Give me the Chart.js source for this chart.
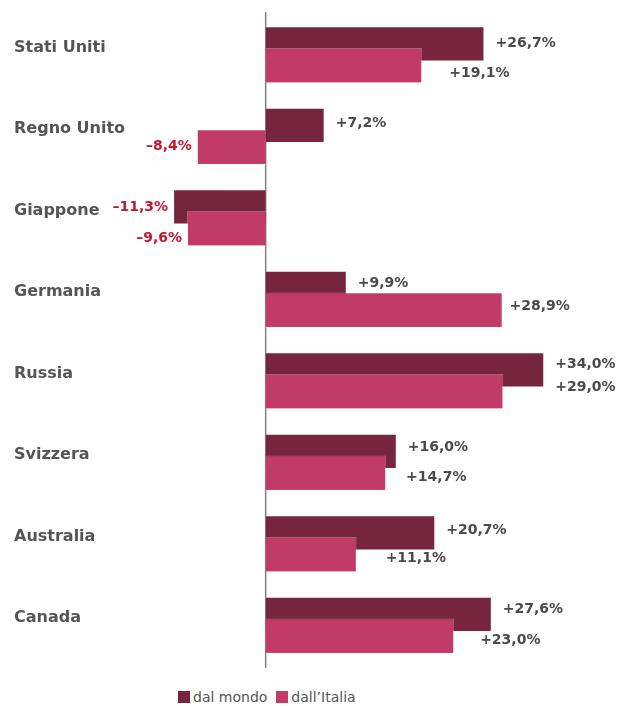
<!DOCTYPE html>
<html>
<head>
<meta charset="utf-8">
<script src="https://cdn.jsdelivr.net/npm/chart.js@4"></script>
<style>
  body { margin: 0; background: #fff; }
  #wrap { position: relative; width: 622px; height: 706px; }
  #box { position: absolute; left: 0; top: 0; width: 622px; height: 680px; }
  #legenda { position: absolute; left: 178px; top: 689px; font: 14px "DejaVu Sans", sans-serif; color: #555; display: flex; align-items: center; }
  #legenda span.q { display: inline-block; width: 12px; height: 12px; margin-right: 3px; }
  #legenda span.t { margin-right: 9px; }
</style>
</head>
<body>
<div id="wrap">
  <div id="box"><canvas id="grafico"></canvas></div>
  <div id="legenda"></div>
</div>
<script>
// dati
const paesi = ['Stati Uniti', 'Regno Unito', 'Giappone', 'Germania', 'Russia', 'Svizzera', 'Australia', 'Canada'];
const dalMondo = [26.7, 7.2, -11.3, 9.9, 34.0, 16.0, 20.7, 27.6];
const dallItalia = [19.1, -8.4, -9.6, 28.9, 29.0, 14.7, 11.1, 23.0];
const serie = ['dal mondo', 'dall\u2019Italia'];

const coloreScuro = '#77243f';
const coloreRosa = '#c23a67';

// spostamenti etichette (px) rispetto alla fine della barra
const spostaRosaX = [27, 7, 5, 7, 52, 20, 29, 26];
const spostaScuroY = [-1, -2, 0, -5, -6, -4, -3, -5];
const spostaRosaY = [8, -1, 10, -4, -4, 4, 4, 4];

function formatta(v) {
  const s = Math.abs(v).toFixed(1).replace('.', ',') + '%';
  return (v < 0 ? '\u2013' : '+') + s;
}

// legenda html
const leg = document.getElementById('legenda');
[coloreScuro, coloreRosa].forEach((c, i) => {
  leg.innerHTML += '<span class="q" style="background:' + c + '"></span><span class="t">' + serie[i] + '</span>';
});

// linea dello zero, nomi dei paesi ed etichette
const decorazioni = {
  id: 'decorazioni',
  beforeDatasetsDraw(chart) {
    const ctx = chart.ctx;
    const x0 = chart.scales.x.getPixelForValue(0);
    ctx.save();
    ctx.strokeStyle = '#808080';
    ctx.lineWidth = 1.5;
    ctx.beginPath();
    ctx.moveTo(x0, chart.chartArea.top - 2);
    ctx.lineTo(x0, chart.chartArea.bottom + 2);
    ctx.stroke();
    ctx.restore();
  },
  afterDatasetsDraw(chart) {
    // la serie rosa va sopra quella scura
    chart.getDatasetMeta(1).controller.draw();

    const ctx = chart.ctx;
    ctx.save();
    ctx.font = 'bold 16px "DejaVu Sans"';
    ctx.fillStyle = '#555';
    ctx.textAlign = 'left';
    ctx.textBaseline = 'middle';
    paesi.forEach((p, i) => {
      ctx.fillText(p, 14, chart.scales.y.getPixelForValue(i) - 7);
    });

    ctx.font = 'bold 14px "DejaVu Sans"';
    [dalMondo, dallItalia].forEach((dati, d) => {
      const meta = chart.getDatasetMeta(d);
      meta.data.forEach((bar, i) => {
        const v = dati[i];
        let x, y;
        if (v < 0) {
          ctx.textAlign = 'right';
          ctx.fillStyle = '#c4162f';
          x = bar.x - 5;
        } else {
          ctx.textAlign = 'left';
          ctx.fillStyle = '#4a4a4a';
          x = bar.x + (d === 0 ? 11 : spostaRosaX[i]);
        }
        y = bar.y + (d === 0 ? spostaScuroY[i] : spostaRosaY[i]);
        ctx.fillText(formatta(v), x, y);
      });
    });
    ctx.restore();
  }
};

new Chart(document.getElementById('grafico'), {
  type: 'bar',
  data: {
    labels: paesi,
    datasets: [{
      label: serie[0],
      data: dalMondo,
      backgroundColor: coloreScuro,
      borderColor: 'rgba(255,255,255,0.3)',
      borderWidth: 1
    }, {
      label: serie[1],
      data: dallItalia,
      backgroundColor: coloreRosa,
      borderColor: 'rgba(255,255,255,0.3)',
      borderWidth: 1
    }]
  },
  options: {
    indexAxis: 'y',
    responsive: true,
    maintainAspectRatio: false,
    animation: false,
    categoryPercentage: 0.53,
    barPercentage: 1.63,
    layout: { padding: { left: 110, right: 4, top: 14, bottom: 14 } },
    scales: {
      x: { display: false, min: -19, max: 43 },
      y: { display: false }
    },
    plugins: {
      legend: { display: false },
      tooltip: { enabled: false }
    }
  },
  plugins: [decorazioni]
});
</script>
</body>
</html>
